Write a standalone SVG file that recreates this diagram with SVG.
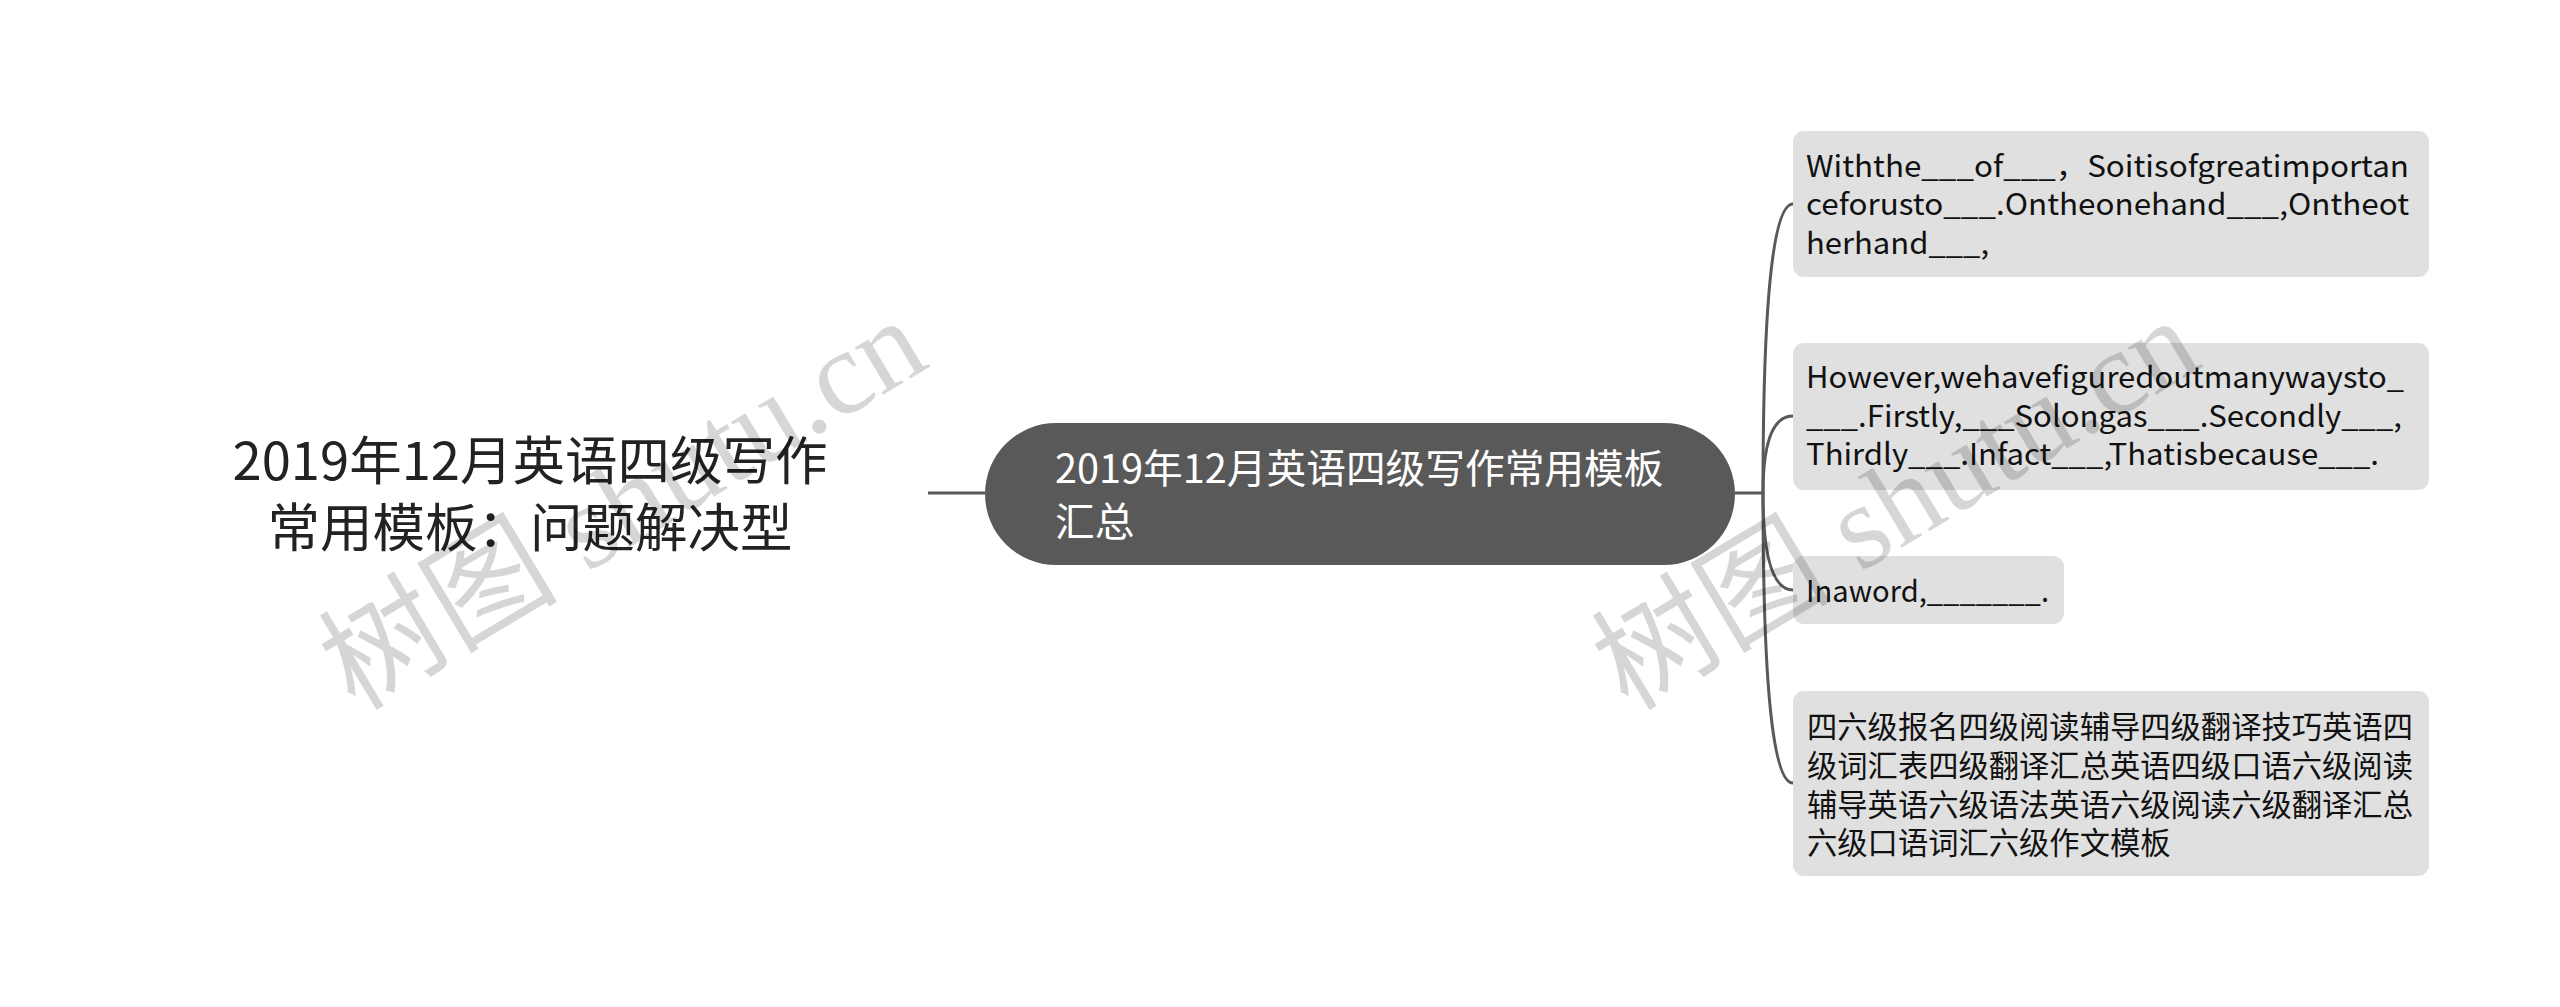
<svg xmlns="http://www.w3.org/2000/svg" width="2560" height="1007" viewBox="0 0 2560 1007">
<style>
  .conn { fill: none; stroke: #595959; stroke-width: 3; }
  .root { font-family: "Noto Sans CJK SC", "Microsoft YaHei", sans-serif; font-size: 52.5px; fill: #222; }
  .main { font-family: "Noto Sans CJK SC", sans-serif; font-size: 39.7px; fill: #ffffff; }
  .leafbox { fill: #e0e0e0; }
  .leaf { font-family: "Noto Sans CJK SC", sans-serif; font-size: 30px; fill: #111; }
  .leafcjk { font-family: "Noto Sans CJK SC", sans-serif; font-size: 30.3px; fill: #111; }
  .wm { font-family: "Liberation Serif", "Noto Sans CJK SC", serif; font-size: 120px; fill: #000; fill-opacity: 0.16; }
</style>
<rect width="2560" height="1007" fill="#ffffff"/>

<g id="connectors">
  <path class="conn" d="M928,493 L985,493"/>
  <path class="conn" d="M1735,493 L1763,493"/>
  <path class="conn" d="M1763,493 Q1763,204 1793,204"/>
  <path class="conn" d="M1763,493 Q1763,416 1793,416"/>
  <path class="conn" d="M1763,493 Q1763,590 1793,590"/>
  <path class="conn" d="M1763,493 Q1763,783 1793,783"/>
</g>

<g id="root">
  <text class="root" x="530" y="480" text-anchor="middle">2019年12月英语四级写作</text>
  <text class="root" x="530" y="547" text-anchor="middle">常用模板：问题解决型</text>
</g>

<g id="main">
  <rect x="985" y="423" width="750" height="142" rx="71" ry="71" fill="#595959"/>
  <text class="main" x="1055" y="483">2019年12月英语四级写作常用模板</text>
  <text class="main" x="1055" y="536">汇总</text>
</g>

<g id="leaf1">
  <rect class="leafbox" x="1793" y="131" width="636" height="146" rx="11" ry="11"/>
  <text class="leaf" x="1806" y="177" textLength="603" lengthAdjust="spacingAndGlyphs">Withthe___of___，Soitisofgreatimportan</text>
  <text class="leaf" x="1806" y="215" textLength="603" lengthAdjust="spacingAndGlyphs">ceforusto___.Ontheonehand___,Ontheot</text>
  <text class="leaf" x="1806" y="254" textLength="183" lengthAdjust="spacingAndGlyphs">herhand___,</text>
</g>

<g id="leaf2">
  <rect class="leafbox" x="1793" y="343" width="636" height="147" rx="11" ry="11"/>
  <text class="leaf" x="1806" y="388" textLength="598" lengthAdjust="spacingAndGlyphs">However,wehavefiguredoutmanywaysto_</text>
  <text class="leaf" x="1806" y="427" textLength="596" lengthAdjust="spacingAndGlyphs">___.Firstly,___Solongas___.Secondly___,</text>
  <text class="leaf" x="1806" y="465" textLength="573" lengthAdjust="spacingAndGlyphs">Thirdly___.Infact___,Thatisbecause___.</text>
</g>

<g id="leaf3">
  <rect class="leafbox" x="1793" y="556" width="271" height="68" rx="11" ry="11"/>
  <text class="leaf" x="1806" y="602" textLength="243" lengthAdjust="spacingAndGlyphs">Inaword,_______.</text>
</g>

<g id="leaf4">
  <rect class="leafbox" x="1793" y="691" width="636" height="185" rx="11" ry="11"/>
  <text class="leafcjk" x="1807" y="738">四六级报名四级阅读辅导四级翻译技巧英语四</text>
  <text class="leafcjk" x="1807" y="777">级词汇表四级翻译汇总英语四级口语六级阅读</text>
  <text class="leafcjk" x="1807" y="816">辅导英语六级语法英语六级阅读六级翻译汇总</text>
  <text class="leafcjk" x="1807" y="854">六级口语词汇六级作文模板</text>
</g>

<g id="watermark">
  <text class="wm" transform="translate(355,712) rotate(-31)">树图 shutu.cn</text>
  <text class="wm" transform="translate(1628,712) rotate(-31)">树图 shutu.cn</text>
</g>
</svg>
